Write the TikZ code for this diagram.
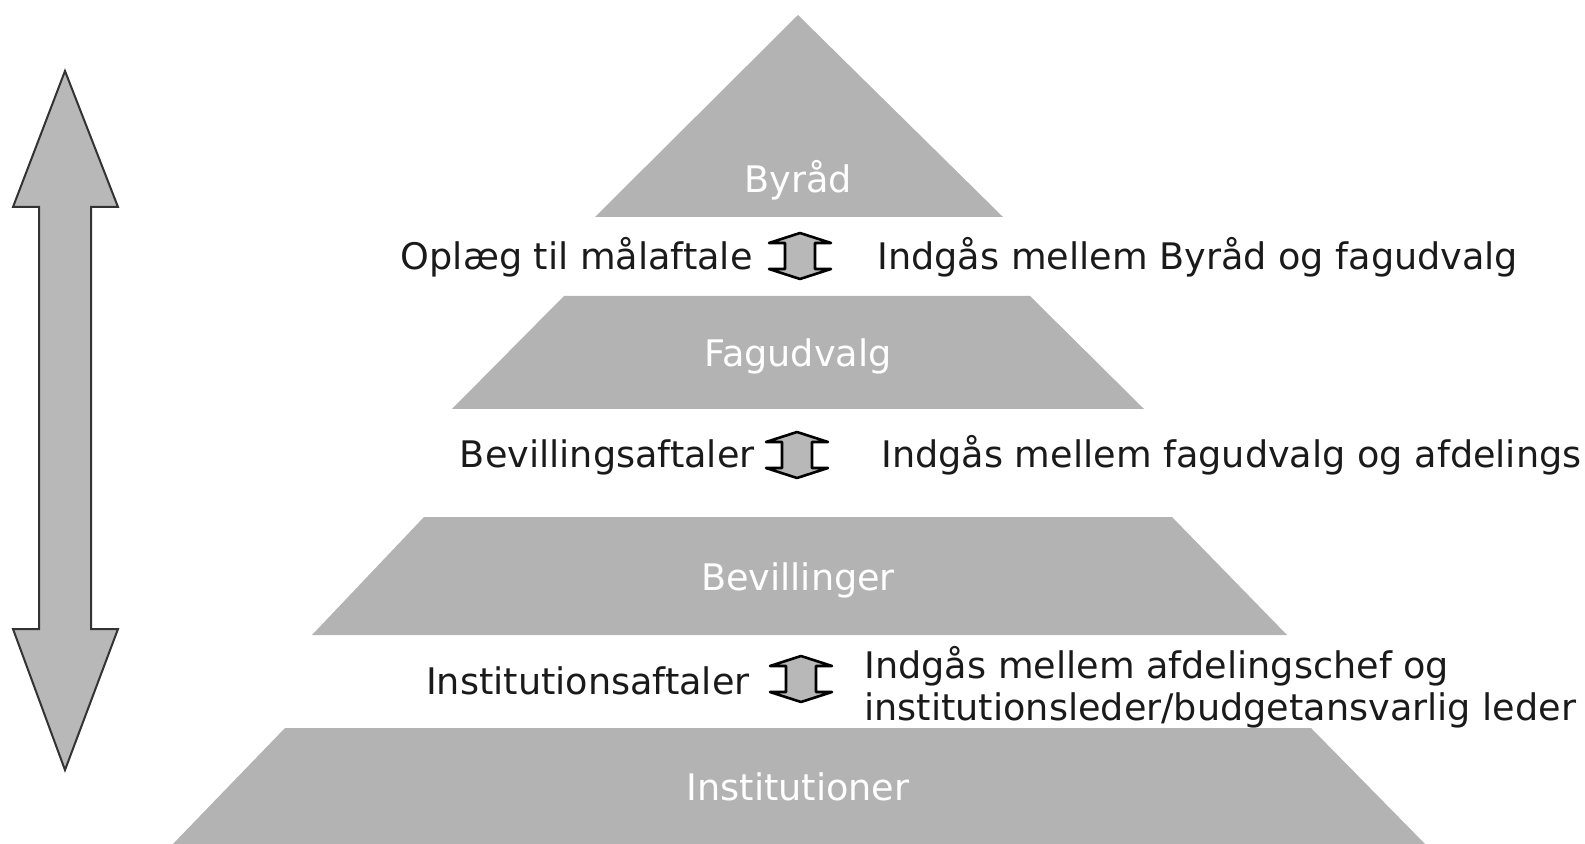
\documentclass[tikz,border=0pt]{standalone}
\usepackage{fontspec}
\setmainfont{DejaVu Sans}
\definecolor{pyr}{HTML}{B3B3B3}
\definecolor{arrfill}{HTML}{B8B8B8}
\definecolor{txt}{HTML}{1A1A1A}
\tikzset{
  layer/.style={fill=pyr, draw=none},
  lbl/.style={text=white, inner sep=0pt, anchor=base, font=\fontsize{18.3}{21}\selectfont},
  lefttxt/.style={text=txt, inner sep=0pt, anchor=base east, font=\fontsize{18.3}{21}\selectfont},
  righttxt/.style={text=txt, inner sep=0pt, anchor=base west, font=\fontsize{18.3}{21}\selectfont},
  bigarrow/.style={fill=arrfill, draw=black!80, line width=1pt, line join=miter},
  smallarrow/.style={fill=arrfill, draw=black, line width=1.3pt, line join=round},
}
\begin{document}
\begin{tikzpicture}[x=0.5pt, y=-0.5pt]
\useasboundingbox (0,0) rectangle (1585,844);
\fill[white] (0,0) rectangle (1585,844);

% pyramid layers
\path[layer] (798,15) -- (1003,217) -- (595,217) -- cycle;
\path[layer] (564,296) -- (1030,296) -- (1144,409) -- (452,409) -- cycle;
\path[layer] (424,517) -- (1172,517) -- (1287,635) -- (312,635) -- cycle;
\path[layer] (285,728) -- (1311,728) -- (1427,846) -- (171,846) -- cycle;

% layer labels
\node[lbl] (byraad) at (798,193) {Byråd};
\node[lbl] (fagudvalg) at (798,367) {Fagudvalg};
\node[lbl] (bevillinger) at (798,590) {Bevillinger};
\node[lbl] (institutioner) at (798,800) {Institutioner};

% big double arrow on the left
\draw[bigarrow] (65,71) -- (118,207) -- (91,207) -- (91,629) -- (118,629)
  -- (65,770) -- (13,629) -- (39,629) -- (39,207) -- (13,207) -- cycle;

% small double arrows
\foreach \cx/\cy in {800/256, 797/455, 801/679}{
  \draw[smallarrow] (\cx,\cy-23) -- (\cx+31,\cy-13) -- (\cx+15,\cy-13)
    -- (\cx+15,\cy+13) -- (\cx+31,\cy+13) -- (\cx,\cy+23)
    -- (\cx-31,\cy+13) -- (\cx-15,\cy+13) -- (\cx-15,\cy-13)
    -- (\cx-31,\cy-13) -- cycle;
}

% row texts
\node[lefttxt] (l1) at (753,270) {Oplæg til målaftale};
\node[righttxt] (r1) at (877,270) {Indgås mellem Byråd og fagudvalg};
\node[lefttxt] (l2) at (755,468) {Bevillingsaftaler};
\node[righttxt] (r2) at (881,468) {Indgås mellem fagudvalg og afdelings};
\node[lefttxt] (l3) at (750,694) {Institutionsaftaler};
\node[righttxt] (r3a) at (864,678) {Indgås mellem afdelingschef og};
\node[righttxt] (r3b) at (864,720) {institutionsleder/budgetansvarlig leder};
\end{tikzpicture}
\end{document}
